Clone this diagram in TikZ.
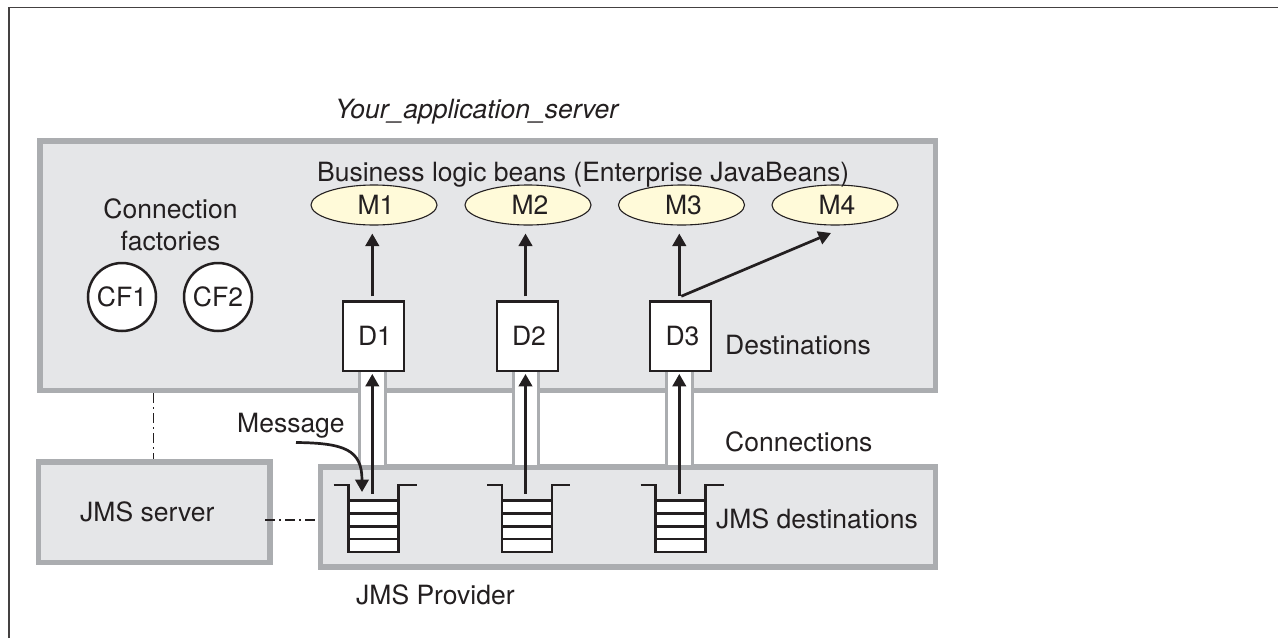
\documentclass[tikz,border=0pt]{standalone}
\usepackage{fontspec}
\setmainfont{TeX Gyre Heros}
\usetikzlibrary{shapes.geometric,arrows.meta,calc}
\definecolor{ink}{HTML}{231F20}
\definecolor{panelfill}{HTML}{E5E6E8}
\definecolor{panelline}{HTML}{ABADB0}
\definecolor{beanfill}{HTML}{FFFAD9}
\tikzset{
  x=1pt,y=-1pt,
  every node/.style={text=ink,font=\fontsize{26.5}{32}\selectfont},
  panel/.style={draw=panelline,fill=panelfill,line width=5.5pt,rectangle,inner sep=0pt},
  lbl/.style={anchor=base west,inner sep=0pt},
  bean/.style={ellipse,draw=ink,fill=beanfill,line width=1.1pt,minimum width=126pt,minimum height=40pt,inner sep=0pt,text height=19pt,text depth=0pt},
  dest/.style={rectangle,draw=ink,fill=white,line width=2.5pt,minimum width=61pt,minimum height=69.5pt,inner sep=0pt,text height=19pt,text depth=0pt},
  cf/.style={circle,draw=ink,fill=white,line width=2.5pt,minimum size=68pt,inner sep=0pt,text height=19pt,text depth=0pt},
  arr/.style={draw=ink,line width=2.7pt,-{Triangle[length=12.5pt,width=13.5pt]}},
  channel/.style={draw=panelline,line width=3pt},
  dashdot/.style={draw=ink,line width=1.1pt,dash pattern=on 10pt off 4pt on 2pt off 4pt},
  qline/.style={draw=ink,line width=2.5pt},
  qbody/.style={rectangle,fill=white,minimum width=50pt,minimum height=51.5pt,inner sep=0pt},
}
\begin{document}
\begin{tikzpicture}
\useasboundingbox (0,0) rectangle (1278,638);
\fill[white] (0,0) rectangle (1278,638);
% outer frame (left and top edges)
\draw[draw=ink!85,line width=1.3pt] (9,638) -- (9,7.5) -- (1278,7.5);

% panels
\node[panel,minimum width=895.5pt,minimum height=249.5pt] (app) at (487.75,265.75) {};
\node[panel,minimum width=231.5pt,minimum height=100.5pt] (srv) at (154.25,512.25) {};
\node[panel,minimum width=615pt,minimum height=100pt] (prov) at (628,517) {};

% dash-dot links
\draw[dashdot] (app.south -| 153.5,0) -- (srv.north -| 153.5,0);
\coordinate (dl) at (265,520);
\draw[dashdot] (dl) -- (dl -| prov.west);

% named positions of destinations
\coordinate (c1) at (372.3,0);
\coordinate (c2) at (525.5,0);
\coordinate (c3) at (679.3,0);

% connection channels
\fill[white] (359,371) rectangle (385.5,465);
\draw[channel] (359.3,371) -- (359.3,465);
\draw[channel] (385.3,371) -- (385.3,465);
\fill[white] (513,371) rectangle (538,465);
\draw[channel] (513,371) -- (513,465);
\draw[channel] (538,371) -- (538,465);
\fill[white] (666.5,371) rectangle (692,465);
\draw[channel] (666.5,371) -- (666.5,465);
\draw[channel] (692,371) -- (692,465);

% beans
\node[bean] (m1) at (374,205) {\hspace*{4pt}M1};
\node[bean] (m2) at (528,205) {\hspace*{4pt}M2};
\node[bean] (m3) at (681.5,205) {\hspace*{4pt}M3};
\node[bean] (m4) at (835,205) {\hspace*{4pt}M4};

% destinations
\node[dest] (d1) at (373.5,336.25) {\hspace*{3pt}D1};
\node[dest] (d2) at (527.5,336.25) {\hspace*{3pt}D2};
\node[dest] (d3) at (680.5,336.25) {\hspace*{4pt}D3};

% connection factories
\node[cf] (cf1) at (122,297) {CF1};
\node[cf] (cf2) at (218,297) {CF2};

% queues
\node[qbody] (q1) at (373.5,526.5) {};
\node[qbody] (q2) at (527,526.5) {};
\node[qbody] (q3) at (680.5,526.5) {};
\foreach \q/\cx in {q1/373.5,q2/527,q3/680.5}{
  \draw[qline] (\cx-40,485) -- (\cx-25,485) -- (\cx-25,552) -- (\cx+25,552) -- (\cx+25,485) -- (\cx+43,485);
  \foreach \yy in {500.7,513.5,526.3,539.2}
    \draw[qline] (\cx-25,\yy) -- (\cx+25,\yy);
}

% arrows: queue to destination
\draw[arr,shorten <=6.7pt,shorten >=1.7pt] (c1 |- q1.north) -- (c1 |- d1.south);
\draw[arr,shorten <=6.7pt,shorten >=1.7pt] (c2 |- q2.north) -- (c2 |- d2.south);
\draw[arr,shorten <=6.7pt,shorten >=1.7pt] (c3 |- q3.north) -- (c3 |- d3.south);

% arrows: destination to bean
\draw[arr,shorten <=4pt,shorten >=8pt] (c1 |- d1.north) -- (c1 |- m1.south);
\draw[arr,shorten <=4pt,shorten >=8pt] (c2 |- d2.north) -- (c2 |- m2.south);
\draw[arr,shorten <=4pt,shorten >=8pt] (c3 |- d3.north) -- (c3 |- m3.south);
\coordinate (m4tip) at (831,233);
\draw[arr] ($(c3 |- d3.north)+(2,-4)$) -- (m4tip);

% message
\node[lbl] (msg) at (237,432) {Message};
\coordinate (msgstart) at (296,442.5);
\coordinate (msgtip) at (362,492);
\draw[arr] (msgstart) .. controls (345,443) and (362,450) .. (msgtip);

% labels
\node[lbl,font=\fontsize{26.5}{32}\selectfont\itshape] (title) at (335,118) {Your\_application\_server};
\node[lbl] (biz) at (317,181) {Business logic beans (Enterprise JavaBeans)};
\node[align=center,inner sep=0pt] (cfl) at (170.5,225) {Connection\\factories};
\node[lbl] (dst) at (725,354) {Destinations};
\node[lbl] (con) at (725,451) {Connections};
\node[lbl] (jmsd) at (716,528) {JMS destinations};
\node[lbl] (jmss) at (80,521) {JMS server};
\node[lbl] (jmsp) at (356,604) {JMS Provider};
\end{tikzpicture}
\end{document}
